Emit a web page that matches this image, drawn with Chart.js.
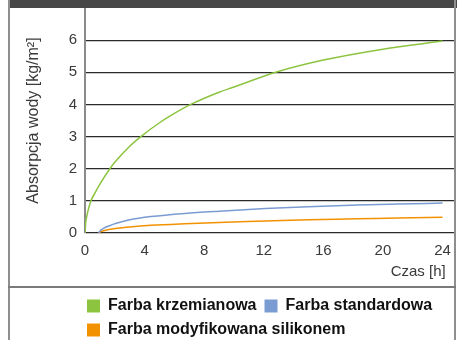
<!DOCTYPE html>
<html>
<head>
<meta charset="utf-8">
<script src="https://cdn.jsdelivr.net/npm/chart.js@4/dist/chart.umd.min.js"></script>
<style>
  body { margin: 0; background: #fff; }
  #wrap { position: relative; width: 460px; height: 340px; }
  #wrap canvas { position: absolute; left: 0; top: 0; }
  .deco { position: absolute; pointer-events: none; }
  #topbar { left: 8px; top: 0; width: 449px; height: 8px; background: #474747; }
  #leftline { left: 8px; top: 0; width: 2px; height: 340px; background: #8e8e8e; }
  #rightline { left: 454px; top: 0; width: 2px; height: 340px; background: #8e8e8e; }
  #sepline { left: 8px; top: 286px; width: 448px; height: 2px; background: #7a7a7a; }
</style>
</head>
<body>
<div id="wrap">
  <canvas id="chart" width="460" height="340"></canvas>
  <div class="deco" id="topbar"></div>
  <div class="deco" id="leftline"></div>
  <div class="deco" id="rightline"></div>
  <div class="deco" id="sepline"></div>
</div>
<script>
// axis ticks
var X_TICKS = [0, 4, 8, 12, 16, 20, 24];
var Y_TICKS = [0, 1, 2, 3, 4, 5, 6];
var X_MAX = 24.77;
var Y_MAX = 7;

// series (time in h, absorption in kg/m2)
var LABELS = ["Farba krzemianowa", "Farba standardowa", "Farba modyfikowana silikonem"];
var COLORS = ["#8cc43f", "#7b9cd3", "#f39200"];

var KRZEM_T = [0, 0.05, 0.1, 0.2, 0.4, 0.7, 1, 1.67, 2, 3, 3.75, 5, 6, 7.1, 9, 10, 12.8, 16, 20, 24];
var KRZEM_Y = [0, 0.34, 0.48, 0.69, 1.0, 1.27, 1.52, 2.0, 2.2, 2.7, 3.0, 3.43, 3.72, 4.0, 4.38, 4.54, 5.0, 5.38, 5.72, 5.97];

var STAND_T = [0.92, 1.0, 1.26, 1.6, 2.16, 3, 4.43, 6.7, 9, 12.1, 15, 18.3, 21, 24];
var STAND_Y = [0, 0.06, 0.15, 0.22, 0.31, 0.41, 0.51, 0.61, 0.68, 0.76, 0.82, 0.87, 0.9, 0.93];

var SILIK_T = [0.92, 1.0, 1.26, 1.6, 2.16, 3, 4.43, 6.7, 9, 12.1, 15, 18.3, 21, 24];
var SILIK_Y = [0, 0.03, 0.07, 0.11, 0.15, 0.19, 0.24, 0.29, 0.33, 0.37, 0.41, 0.44, 0.47, 0.49];

/*
  NAME : toPoints
  ROLE : zip time and value arrays into {x, y} points
*/
function toPoints(t, y) {
  var pts = [];
  for (var i = 0; i < t.length; i++) {
    pts.push({ x: t[i], y: y[i] });
  }
  return pts;
}

function makeDataset(i, t, y) {
  return {
    label: LABELS[i],
    data: toPoints(t, y),
    borderColor: COLORS[i],
    backgroundColor: COLORS[i],
    borderWidth: 1.5,
    pointRadius: 0,
    cubicInterpolationMode: 'monotone'
  };
}

// moves the legend block under the plot, like the original
var legendShift = {
  id: 'legendShift',
  afterLayout: function(chart) {
    chart.legend.left += chart.chartArea.left - 6;
    chart.legend.top += 8;
  }
};

var TEXT = '#3a3a3a';
var FONT = "'Liberation Sans', Arial, sans-serif";

var ctx = document.getElementById('chart').getContext('2d');
new Chart(ctx, {
  type: 'line',
  data: {
    datasets: [
      makeDataset(0, KRZEM_T, KRZEM_Y),
      makeDataset(1, STAND_T, STAND_Y),
      makeDataset(2, SILIK_T, SILIK_Y)
    ]
  },
  plugins: [legendShift],
  options: {
    responsive: false,
    animation: false,
    events: [],
    layout: { padding: { top: 8, right: 6, left: 0, bottom: 0 } },
    plugins: {
      tooltip: { enabled: false },
      legend: {
        position: 'bottom',
        align: 'start',
        labels: {
          boxWidth: 13,
          boxHeight: 13,
          padding: 8,
          color: '#111',
          font: { family: FONT, size: 16, weight: 'bold' },
          generateLabels: function(chart) {
            var items = Chart.defaults.plugins.legend.labels.generateLabels(chart);
            items.forEach(function(it) { it.lineWidth = 0; });
            return items;
          }
        }
      }
    },
    scales: {
      x: {
        type: 'linear',
        min: 0,
        max: X_MAX,
        afterBuildTicks: function(scale) {
          scale.ticks = X_TICKS.map(function(v) { return { value: v }; });
        },
        afterFit: function(scale) {
          scale.paddingLeft = 0;
          scale.paddingRight = 0;
        },
        grid: { display: false, drawTicks: false },
        border: { display: false },
        ticks: {
          padding: 9,
          color: TEXT,
          maxRotation: 0,
          font: { family: FONT, size: 15 }
        },
        title: {
          display: true,
          text: 'Czas [h]\u00a0\u00a0',
          align: 'end',
          color: TEXT,
          padding: { top: -6, bottom: 1 },
          font: { family: FONT, size: 15 }
        }
      },
      y: {
        min: 0,
        max: Y_MAX,
        afterBuildTicks: function(scale) {
          scale.ticks = Y_TICKS.map(function(v) { return { value: v }; });
        },
        afterFit: function(scale) {
          scale.width = 85;
          scale.paddingTop = 0;
          scale.paddingBottom = 0;
        },
        grid: { color: '#2b2b2b', lineWidth: 1.2, drawTicks: false },
        border: { color: '#8a8a8a', width: 2 },
        ticks: {
          padding: 8,
          color: TEXT,
          font: { family: FONT, size: 15 }
        },
        title: {
          display: true,
          text: 'Absorpcja wody [kg/m²]',
          color: TEXT,
          padding: { top: 24, bottom: 0 },
          font: { family: FONT, size: 16 }
        }
      }
    }
  }
});
</script>
</body>
</html>
